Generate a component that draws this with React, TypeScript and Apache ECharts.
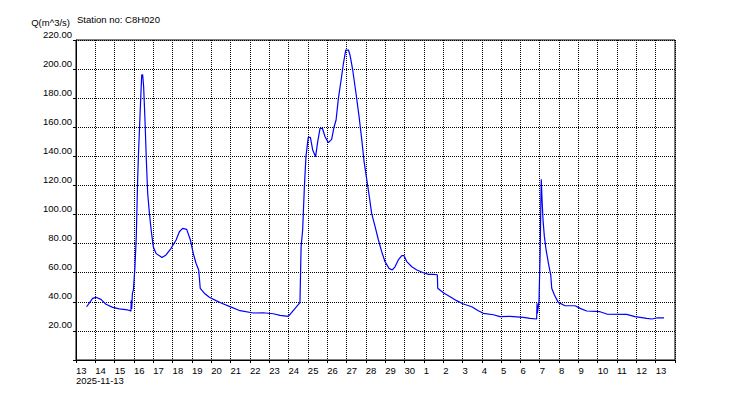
import React, { useEffect, useRef } from "react";
import * as echarts from "echarts";

const startDate = "2025-11-13";
const yTicks = [0, 20, 40, 60, 80, 100, 120, 140, 160, 180, 200, 220];
const yAxisTitle = "Q(m^3/s)";
const stationLabel = "Station no: C8H020";

const times = [
  "11-13 13:12", "11-13 20:38", "11-14 00:43", "11-14 06:58", "11-14 13:12", "11-14 21:36",
  "11-15 05:46", "11-15 16:05", "11-15 19:26", "11-15 20:10", "11-15 20:40", "11-15 21:10",
  "11-15 22:05", "11-15 23:17", "11-16 01:12", "11-16 02:53", "11-16 04:34", "11-16 05:46",
  "11-16 07:26", "11-16 09:36", "11-16 10:48", "11-16 12:00", "11-16 13:41", "11-16 15:22",
  "11-16 17:02", "11-16 19:12", "11-16 21:36", "11-17 00:00", "11-17 03:22", "11-17 10:48",
  "11-17 15:50", "11-17 22:05", "11-18 04:19", "11-18 08:24", "11-18 12:29", "11-18 17:31",
  "11-18 22:05", "11-19 01:41", "11-19 05:02", "11-19 08:24", "11-19 10:19", "11-19 15:22",
  "11-19 21:36", "11-20 06:00", "11-20 12:58", "11-20 23:17", "11-21 11:46", "11-22 04:19",
  "11-22 16:34", "11-23 05:02", "11-23 13:26", "11-23 23:46", "11-24 08:10", "11-24 14:10",
  "11-24 15:36", "11-24 17:31", "11-24 19:41", "11-24 21:36", "11-25 00:29", "11-25 03:07",
  "11-25 06:00", "11-25 09:36", "11-25 12:14", "11-25 15:07", "11-25 18:00", "11-25 21:22",
  "11-26 01:26", "11-26 05:31", "11-26 08:24", "11-26 11:02", "11-26 13:55", "11-26 17:17",
  "11-26 20:10", "11-26 23:02", "11-27 02:24", "11-27 04:19", "11-27 07:41", "11-27 11:46",
  "11-27 15:36", "11-27 18:58", "11-27 21:50", "11-28 01:12", "11-28 04:19", "11-28 07:12",
  "11-28 11:31", "11-28 15:36", "11-28 19:41", "11-28 23:46", "11-29 04:48", "11-29 08:53",
  "11-29 12:14", "11-29 16:19", "11-29 20:38", "11-29 23:31", "11-30 02:53", "11-30 09:07",
  "11-30 15:22", "11-30 23:31", "12-01 05:46", "12-01 12:00", "12-01 16:48", "12-01 17:17",
  "12-02 00:14", "12-02 08:38", "12-02 16:48", "12-03 01:12", "12-03 11:31", "12-03 19:41",
  "12-04 01:55", "12-04 14:24", "12-04 22:48", "12-05 11:02", "12-06 03:36", "12-06 12:00",
  "12-06 20:10", "12-06 20:38", "12-06 21:07", "12-06 23:02", "12-07 00:29", "12-07 01:26",
  "12-07 01:55", "12-07 02:53", "12-07 04:05", "12-07 05:46", "12-07 07:55", "12-07 10:48",
  "12-07 13:41", "12-07 14:53", "12-07 18:14", "12-07 23:02", "12-08 07:26", "12-08 19:55",
  "12-09 02:10", "12-09 10:19", "12-10 02:53", "12-10 11:17", "12-11 12:00", "12-11 22:19",
  "12-12 12:58", "12-12 19:12", "12-13 01:26", "12-13 10:19",
];

const flows = [
  36.6, 42.4, 43.1, 41.7, 38.3, 36.2,
  35.1, 34.4, 33.9, 33.5, 41.0, 35.0,
  46.0, 48.0, 64.0, 85.0, 124.0, 144.0,
  167.0, 196.0, 196.0, 188.0, 165.0, 137.5,
  114.6, 100.8, 88.2, 77.9, 73.3, 70.4,
  72.2, 76.8, 82.5, 88.2, 90.5, 89.8,
  82.5, 73.3, 66.5, 61.9, 49.3, 45.9,
  43.1, 40.8, 39.0, 36.7, 33.9, 32.3,
  32.5, 31.8, 30.7, 30.0, 35.5, 39.4,
  77.9, 89.4, 119.2, 139.8, 153.1, 153.1,
  144.4, 139.8, 150.1, 159.3, 159.3, 153.5,
  149.4, 151.7, 160.0, 165.0, 179.9, 192.5,
  204.0, 213.1, 213.1, 209.7, 199.4, 183.4,
  167.3, 151.3, 136.4, 123.8, 112.3, 100.8,
  91.7, 82.5, 74.5, 67.6, 63.0, 61.9,
  64.1, 68.8, 71.7, 71.7, 67.6, 64.1,
  61.9, 60.0, 58.9, 58.8, 58.6, 49.3,
  46.3, 43.5, 40.8, 38.5, 36.6, 33.9,
  32.1, 31.1, 29.8, 30.0, 29.3, 28.6,
  28.2, 39.0, 32.0, 40.1, 73.3, 110.0,
  124.2, 110.0, 96.3, 84.8, 75.6, 66.5,
  58.4, 49.3, 44.7, 39.6, 37.3, 37.3,
  35.5, 33.7, 33.2, 31.6, 31.4, 29.8,
  28.6, 28.2, 28.9, 28.9,
];

const DAY = 86400000;
const baseMs = Date.UTC(2025, 10, 13);

function toDays(s: string): number {
  const [md, hm] = s.split(" ");
  const [m, d] = md.split("-").map(Number);
  const [h, mi] = hm.split(":").map(Number);
  return (Date.UTC(2025, m - 1, d, h, mi) - baseMs) / DAY;
}

function dayLabel(v: number): string {
  if (v >= 31) return "";
  const dt = new Date(baseMs + v * DAY);
  return String(dt.getUTCDate());
}

export default function App() {
  const ref = useRef<HTMLDivElement>(null);
  useEffect(() => {
    if (!ref.current) return;
    const chart = echarts.init(ref.current, null, { renderer: "svg" });
    const font = "'Liberation Sans', Arial, sans-serif";
    const data = times.map((t, i) => [toDays(t), flows[i]]);
    chart.setOption({
      animation: false,
      backgroundColor: "#ffffff",
      textStyle: { fontFamily: font },
      grid: {
        left: 76,
        right: 75,
        top: 40,
        bottom: 40,
        show: true,
        borderColor: "#000",
        borderWidth: 1,
        backgroundColor: "transparent",
      },
      graphic: [
        {
          type: "text",
          right: 750 - 70,
          top: 17,
          style: { text: yAxisTitle, fill: "#000", font: "9.5px " + font, textAlign: "right" },
        },
        {
          type: "text",
          left: 77,
          top: 14,
          style: { text: stationLabel, fill: "#000", font: "9.5px " + font },
        },
        {
          type: "text",
          left: 76,
          top: 375,
          style: { text: startDate, fill: "#000", font: "9.5px " + font },
        },
      ],
      xAxis: {
        type: "value",
        min: 0,
        max: 31,
        interval: 1,
        axisLine: { show: true, lineStyle: { color: "#000", width: 1 } },
        axisTick: { show: true, length: 3, lineStyle: { color: "#000" } },
        axisLabel: {
          color: "#000",
          fontSize: 9.5,
          fontFamily: font,
          align: "left",
          margin: 5,
          interval: 0,
          showMinLabel: true,
          showMaxLabel: true,
          hideOverlap: false,
          formatter: dayLabel,
        },
        splitLine: { show: true, lineStyle: { color: "#000", type: [1, 1], width: 1 } },
      },
      yAxis: {
        type: "value",
        min: yTicks[0],
        max: yTicks[yTicks.length - 1],
        interval: 20,
        axisLine: { show: true, lineStyle: { color: "#000", width: 1 } },
        axisTick: { show: true, length: 3, lineStyle: { color: "#000" } },
        axisLabel: {
          color: "#000",
          fontSize: 9.5,
          fontFamily: font,
          margin: 4,
          verticalAlign: "bottom",
          padding: [0, 0, 1, 0],
          formatter: (v: number) => (v === 0 ? "" : v.toFixed(2)),
        },
        splitLine: { show: true, lineStyle: { color: "#000", type: [1, 1], width: 1 } },
      },
      series: [
        {
          type: "line",
          data,
          showSymbol: false,
          symbol: "none",
          lineStyle: { color: "#0000ff", width: 1.2 },
        },
      ],
    });
    return () => chart.dispose();
  }, []);
  return (
    <div
      ref={ref}
      style={{ position: "fixed", left: 0, top: 0, width: 750, height: 400, background: "#fff" }}
    />
  );
}
